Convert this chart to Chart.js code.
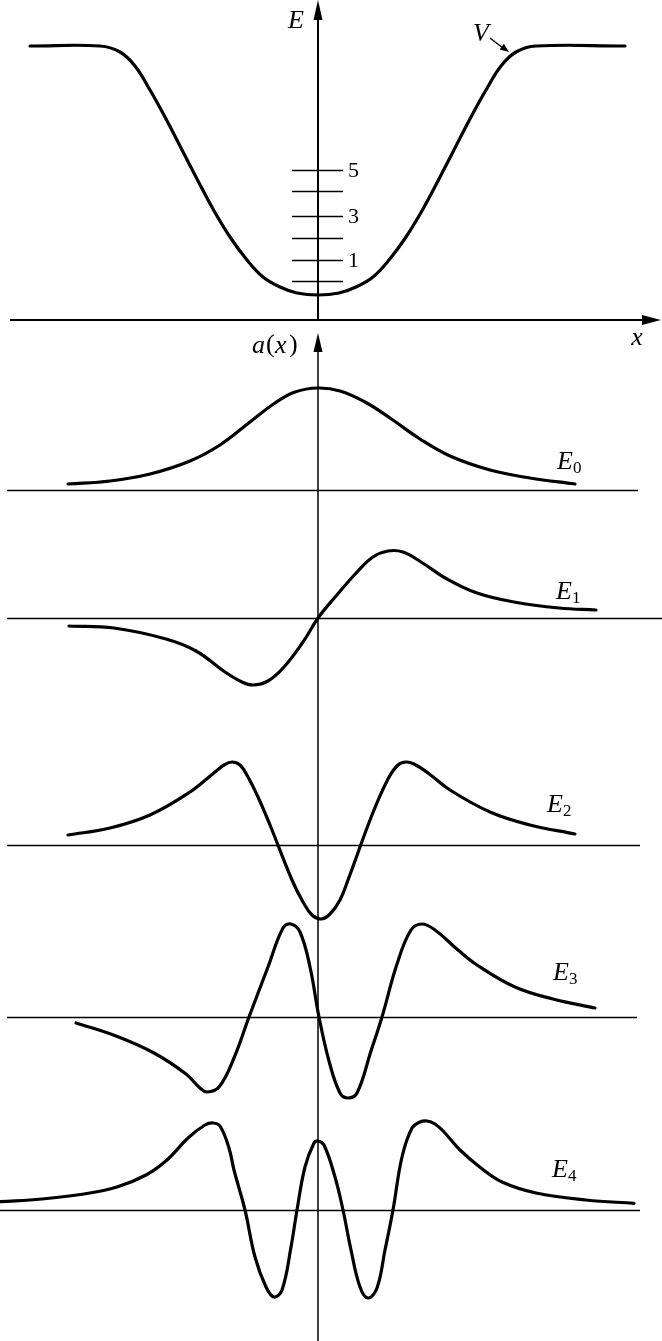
<!DOCTYPE html>
<html>
<head>
<meta charset="utf-8">
<script src="https://cdn.jsdelivr.net/npm/chart.js@4.4.0/dist/chart.umd.min.js"></script>
<style>
  html, body { margin: 0; padding: 0; background: #fff; }
  #wrap { width: 662px; height: 1341px; }
</style>
</head>
<body>
<div id="wrap"><canvas id="waveChart" width="662" height="1341"></canvas></div>
<script>
// potential well V(x)
const potX = [-2.88, -2.18, -1.98, -1.83, -1.68, -1.53, -1.38, -1.21, -1.05, -0.88, -0.71, -0.55, -0.38, -0.21, 0,
  0.21, 0.38, 0.55, 0.71, 0.88, 1.05, 1.21, 1.38, 1.53, 1.68, 1.83, 1.98, 2.18, 3.07];
const potV = [2.74, 2.74, 2.68, 2.54, 2.30, 2.03, 1.74, 1.41, 1.11, 0.83, 0.60, 0.43, 0.33, 0.27, 0.25,
  0.27, 0.33, 0.43, 0.60, 0.83, 1.11, 1.41, 1.74, 2.03, 2.30, 2.54, 2.68, 2.74, 2.74];

// energy levels marked on the E axis
const levelE = [0.39, 0.60, 0.82, 1.04, 1.29, 1.50];
const levelLabels = ['', '1', '', '3', '', '5'];

// wave functions a(x)
const stateNames = ['0', '1', '2', '3', '4'];

const psi0X = [-2.50, -2.08, -1.68, -1.28, -0.98, -0.68, -0.43, -0.23, 0, 0.22, 0.47, 0.72, 1.02, 1.32, 1.72, 2.12, 2.57];
const psi0Y = [0.06, 0.09, 0.16, 0.29, 0.45, 0.68, 0.87, 0.98, 1.02, 0.99, 0.88, 0.72, 0.51, 0.34, 0.20, 0.12, 0.06];

const psi1X = [-2.49, -2.04, -1.52, -1.22, -0.93, -0.76, -0.65, -0.50, -0.34, -0.15, 0, 0.18, 0.40, 0.55, 0.70, 0.85, 1.03, 1.29, 1.59, 1.96, 2.41, 2.78];
const psi1Y = [-0.08, -0.10, -0.21, -0.33, -0.54, -0.64, -0.67, -0.63, -0.49, -0.24, 0, 0.22, 0.47, 0.61, 0.67, 0.66, 0.56, 0.39, 0.25, 0.16, 0.10, 0.08];

const psi2X = [-2.50, -2.08, -1.68, -1.28, -1.03, -0.94, -0.86, -0.78, -0.70, -0.60, -0.48, -0.26, -0.15, -0.06, 0.03, 0.12, 0.22, 0.30, 0.54, 0.70, 0.80, 0.88, 0.96, 1.10, 1.32, 1.72, 2.12, 2.57];
const psi2Y = [0.10, 0.17, 0.30, 0.53, 0.73, 0.80, 0.83, 0.80, 0.68, 0.48, 0.20, -0.35, -0.57, -0.70, -0.74, -0.69, -0.55, -0.35, 0.30, 0.66, 0.80, 0.83, 0.81, 0.72, 0.55, 0.33, 0.20, 0.11];

const psi3X = [-2.42, -2.02, -1.64, -1.32, -1.18, -1.11, -0.99, -0.84, -0.69, -0.50, -0.35, -0.27, -0.18, -0.08, 0.01, 0.11, 0.22, 0.30, 0.39, 0.53, 0.64, 0.79, 0.93, 1.04, 1.17, 1.40, 1.59, 1.97, 2.35, 2.77];
const psi3Y = [-0.06, -0.19, -0.36, -0.57, -0.71, -0.75, -0.70, -0.41, 0, 0.50, 0.89, 0.93, 0.85, 0.50, 0, -0.44, -0.76, -0.81, -0.76, -0.34, 0, 0.53, 0.87, 0.93, 0.87, 0.67, 0.52, 0.30, 0.18, 0.09];

const psi4X = [-3.18, -2.76, -2.34, -2.01, -1.72, -1.51, -1.30, -1.13, -1.05, -0.98, -0.89, -0.84, -0.73, -0.63, -0.52, -0.44, -0.36, -0.27, -0.21, -0.13, -0.04, 0, 0.06, 0.17, 0.25, 0.33, 0.42, 0.50, 0.59, 0.67, 0.75, 0.84, 0.94, 1.02, 1.09, 1.17, 1.26, 1.42, 1.63, 1.84, 2.18, 2.68, 3.16];
const psi4Y = [0.083, 0.11, 0.16, 0.23, 0.35, 0.50, 0.72, 0.85, 0.87, 0.84, 0.62, 0.40, 0, -0.47, -0.77, -0.87, -0.80, -0.37, 0, 0.43, 0.67, 0.69, 0.65, 0.33, 0, -0.40, -0.77, -0.88, -0.78, -0.40, 0, 0.53, 0.82, 0.88, 0.89, 0.86, 0.78, 0.60, 0.42, 0.28, 0.17, 0.10, 0.067];

const psiX = [psi0X, psi1X, psi2X, psi3X, psi4X];
const psiY = [psi0Y, psi1Y, psi2Y, psi3Y, psi4Y];

const H = 1341;
// pixel row of the zero line of each panel (layout only)
const zeroRow = { yV: 320, y0: 490, y1: 618, y2: 845, y3: 1017, y4: 1210 };

function panelAxis(row) {
  return { type: 'linear', display: false, min: (row - H) / 100, max: row / 100 };
}

function toPoints(xs, ys) {
  return xs.map((x, i) => ({ x: x, y: ys[i] }));
}

const datasets = [{
  label: 'V',
  data: toPoints(potX, potV),
  yAxisID: 'yV'
}];
psiX.forEach((xs, k) => {
  datasets.push({
    label: 'E' + stateNames[k],
    data: toPoints(xs, psiY[k]),
    yAxisID: 'y' + k
  });
});
datasets.forEach(ds => {
  ds.showLine = true;
  ds.borderColor = '#000';
  ds.borderWidth = 3.2;
  ds.pointRadius = 0;
  ds.tension = 0.4;
  ds.borderCapStyle = 'round';
  ds.borderJoinStyle = 'round';
  ds.fill = false;
});

function arrowHead(ctx, tipX, tipY, dx, dy, len, half) {
  // dx, dy: unit direction the arrow points to
  const bx = tipX - dx * len, by = tipY - dy * len;
  ctx.beginPath();
  ctx.moveTo(tipX, tipY);
  ctx.lineTo(bx - dy * half, by + dx * half);
  ctx.lineTo(bx + dy * half, by - dx * half);
  ctx.closePath();
  ctx.fill();
}

const figurePlugin = {
  id: 'figure',
  afterDatasetsDraw(chart) {
    const ctx = chart.ctx;
    const sx = chart.scales.x;
    const x0 = sx.getPixelForValue(0);
    const vAxisRow = chart.scales.yV.getPixelForValue(0);
    ctx.save();
    ctx.strokeStyle = '#000';
    ctx.fillStyle = '#000';
    ctx.lineCap = 'butt';

    // E axis (top)
    ctx.lineWidth = 2;
    ctx.beginPath();
    ctx.moveTo(x0, 16);
    ctx.lineTo(x0, vAxisRow);
    ctx.stroke();
    arrowHead(ctx, x0, 0, 0, -1, 20, 4.5);

    // x axis
    ctx.beginPath();
    ctx.moveTo(10, vAxisRow);
    ctx.lineTo(646, vAxisRow);
    ctx.stroke();
    arrowHead(ctx, 661, vAxisRow, 1, 0, 19, 5);

    // a(x) axis
    ctx.lineWidth = 1.5;
    ctx.beginPath();
    ctx.moveTo(x0, 348);
    ctx.lineTo(x0, H);
    ctx.stroke();
    arrowHead(ctx, x0, 333, 0, -1, 19, 4.5);

    // energy level marks
    ctx.lineWidth = 1.5;
    ctx.font = '22px "Liberation Serif"';
    ctx.textAlign = 'left';
    ctx.textBaseline = 'middle';
    levelE.forEach((e, i) => {
      const py = Math.round(chart.scales.yV.getPixelForValue(e)) + 0.5;
      ctx.beginPath();
      ctx.moveTo(x0 - 26, py);
      ctx.lineTo(x0 + 25, py);
      ctx.stroke();
      if (levelLabels[i]) ctx.fillText(levelLabels[i], x0 + 30, py + 1);
    });

    // zero lines of the wave functions
    const lineEnds = [638, 662, 640, 637, 640];
    ctx.lineWidth = 1.5;
    stateNames.forEach((n, k) => {
      const py = Math.round(chart.scales['y' + k].getPixelForValue(0)) + 0.5;
      ctx.beginPath();
      ctx.moveTo(k === 4 ? 0 : 7, py);
      ctx.lineTo(lineEnds[k], py);
      ctx.stroke();
    });

    // labels
    ctx.textAlign = 'center';
    ctx.font = 'italic 26px "Liberation Serif"';
    ctx.fillText('E', 296, 21);
    ctx.fillText('V', 481, 34);
    ctx.fillText('x', 637, 338);

    // V pointer
    ctx.lineWidth = 1.5;
    ctx.beginPath();
    ctx.moveTo(490, 38);
    ctx.lineTo(503, 48);
    ctx.stroke();
    arrowHead(ctx, 509, 52, 0.8, 0.6, 9, 3.5);

    // a(x)
    ctx.textAlign = 'left';
    ctx.font = 'italic 26px "Liberation Serif"';
    ctx.fillText('a', 252, 346);
    ctx.font = '26px "Liberation Serif"';
    ctx.fillText('(', 266, 345);
    ctx.font = 'italic 26px "Liberation Serif"';
    ctx.fillText('x', 275, 346);
    ctx.font = '26px "Liberation Serif"';
    ctx.fillText(')', 289, 345);

    // E_n labels
    const labelPos = [[565, -28], [564, -26], [555, -40], [561, -44], [560, -40]];
    stateNames.forEach((n, k) => {
      const py = chart.scales['y' + k].getPixelForValue(0) + labelPos[k][1];
      const px = labelPos[k][0];
      ctx.textAlign = 'center';
      ctx.font = 'italic 26px "Liberation Serif"';
      ctx.fillText('E', px, py);
      ctx.textAlign = 'left';
      ctx.font = '17px "Liberation Serif"';
      ctx.fillText(n, px + 8, py + 7);
    });
    ctx.restore();
  }
};

new Chart(document.getElementById('waveChart'), {
  type: 'scatter',
  data: { datasets: datasets },
  options: {
    responsive: false,
    animation: false,
    devicePixelRatio: 1,
    layout: { padding: 0 },
    plugins: { legend: { display: false }, tooltip: { enabled: false } },
    scales: {
      x: { type: 'linear', display: false, min: -3.18, max: 3.44 },
      yV: panelAxis(zeroRow.yV),
      y0: panelAxis(zeroRow.y0),
      y1: panelAxis(zeroRow.y1),
      y2: panelAxis(zeroRow.y2),
      y3: panelAxis(zeroRow.y3),
      y4: panelAxis(zeroRow.y4)
    }
  },
  plugins: [figurePlugin]
});
</script>
</body>
</html>
